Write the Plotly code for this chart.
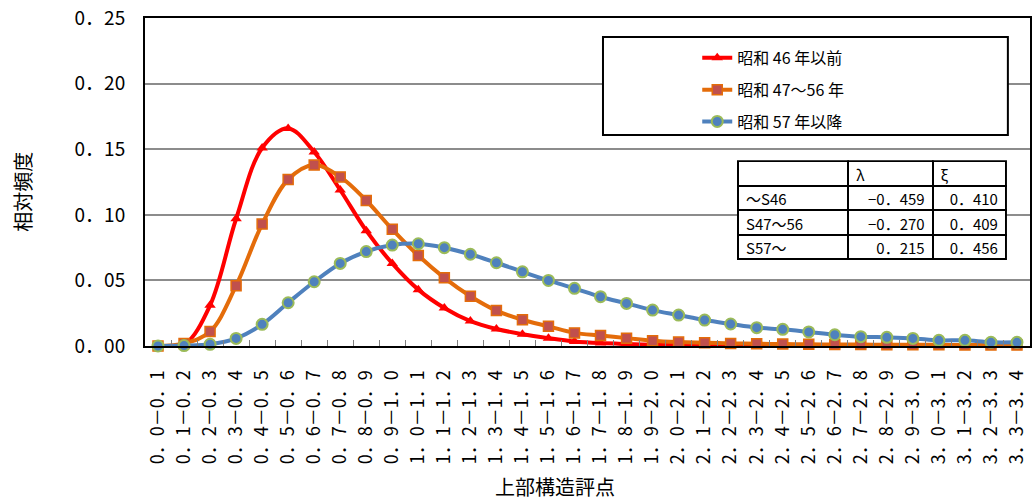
import plotly.graph_objects as go

# ── data ─────────────────────────────────────────────
categories = [
    "0．0－0．1", "0．1－0．2", "0．2－0．3", "0．3－0．4", "0．4－0．5",
    "0．5－0．6", "0．6－0．7", "0．7－0．8", "0．8－0．9", "0．9－1．0",
    "1．0－1．1", "1．1－1．2", "1．2－1．3", "1．3－1．4", "1．4－1．5",
    "1．5－1．6", "1．6－1．7", "1．7－1．8", "1．8－1．9", "1．9－2．0",
    "2．0－2．1", "2．1－2．2", "2．2－2．3", "2．3－2．4", "2．4－2．5",
    "2．5－2．6", "2．6－2．7", "2．7－2．8", "2．8－2．9", "2．9－3．0",
    "3．0－3．1", "3．1－3．2", "3．2－3．3", "3．3－3．4",
]

s46 = [0.000, 0.001, 0.031, 0.097, 0.151, 0.166, 0.148, 0.119, 0.088, 0.063,
       0.043, 0.029, 0.019, 0.013, 0.009, 0.006, 0.0035, 0.0022, 0.0015, 0.001,
       0.0008, 0.0006, 0.0005, 0.0004, 0.0003, 0.0003, 0.0002, 0.0002, 0.0002, 0.0001,
       0.0001, 0.0001, 0.0001, 0.0001]

s47_56 = [0.000, 0.002, 0.011, 0.046, 0.093, 0.127, 0.138, 0.129, 0.111, 0.089,
          0.069, 0.052, 0.038, 0.027, 0.020, 0.015, 0.010, 0.008, 0.006, 0.004,
          0.003, 0.0025, 0.002, 0.0017, 0.0015, 0.0013, 0.0012, 0.0011, 0.001, 0.001,
          0.0009, 0.0008, 0.0008, 0.0007]

s57 = [0.000, 0.0003, 0.0013, 0.0058, 0.0165, 0.033, 0.049, 0.063, 0.072, 0.077,
       0.078, 0.075, 0.070, 0.0635, 0.0566, 0.050, 0.044, 0.0376, 0.0325, 0.0274,
       0.0236, 0.0198, 0.0168, 0.014, 0.0127, 0.0107, 0.0086, 0.0071, 0.0066, 0.0058,
       0.0043, 0.0043, 0.0028, 0.0028]

series_names = ["昭和 46 年以前", "昭和 47～56 年", "昭和 57 年以降"]

y_tickvals = [0.00, 0.05, 0.10, 0.15, 0.20, 0.25]
y_ticktext = ["0．00", "0．05", "0．10", "0．15", "0．20", "0．25"]

# parameter table
table_header = ["", "λ", "ξ"]
table_rows = ["～S46", "S47～56", "S57～"]
table_lambda = ["−0．459", "−0．270", "0．215"]
table_xi = ["0．410", "0．409", "0．456"]

FONT = "Noto Sans CJK JP"

fig = go.Figure()

# ── curves (smoothed, Excel style) ───────────────────
fig.add_trace(go.Scatter(
    x=categories, y=s46, name=series_names[0], legendgroup="a",
    mode="lines+markers", line=dict(color="#ff0000", width=4, shape="spline", smoothing=1),
    marker=dict(symbol="triangle-up", size=10, color="#ff0000"),
    cliponaxis=False,
))
fig.add_trace(go.Scatter(
    x=categories, y=s47_56, name=series_names[1], legendgroup="b",
    mode="lines+markers", line=dict(color="#e46c0a", width=4, shape="spline", smoothing=1),
    marker=dict(symbol="square", size=10, color="#c0504d", line=dict(color="#e46c0a", width=1.5)),
    cliponaxis=False,
))
fig.add_trace(go.Scatter(
    x=categories, y=s57, name=series_names[2], legendgroup="c",
    mode="lines+markers", line=dict(color="#4f81bd", width=4, shape="spline", smoothing=1),
    marker=dict(symbol="circle", size=11, color="#4f81bd", line=dict(color="#9bbb59", width=2)),
    cliponaxis=False,
))

# ── parameter table ──────────────────────────────────
fig.add_trace(go.Table(
    domain=dict(x=[0.670, 0.973], y=[0.255, 0.563]),
    columnwidth=[110, 84, 73],
    header=dict(
        values=table_header, height=24.5, align="left",
        fill_color="white", line=dict(color="black", width=2),
        font=dict(family=FONT, size=15, color="black"),
    ),
    cells=dict(
        values=[table_rows, table_lambda, table_xi], height=24.5,
        align=["left", "right", "right"],
        fill_color="white", line=dict(color="black", width=2),
        font=dict(family=FONT, size=15, color="black"),
    ),
))

# legend frame
fig.add_shape(type="rect", xref="paper", yref="paper",
              x0=0.5175, x1=0.975, y0=0.643, y1=0.942,
              line=dict(color="black", width=2), fillcolor="white", layer="above")

fig.add_annotation(text="上部構造評点", xref="paper", yref="paper", x=0.463, y=-0.427,
                   xanchor="center", yanchor="middle",
                   showarrow=False, font=dict(family=FONT, size=20, color="black"))
fig.add_annotation(text="相対頻度", xref="paper", yref="paper", x=-0.138, y=0.47,
                   xanchor="center", yanchor="middle",
                   textangle=-90, showarrow=False, font=dict(family=FONT, size=20, color="black"))

fig.update_layout(
    width=1032, height=500,
    margin=dict(l=145, r=2, t=18, b=154),
    plot_bgcolor="white", paper_bgcolor="white",
    font=dict(family=FONT, size=16, color="black"),
    showlegend=True,
    legend=dict(
        x=0.624, y=0.93, xanchor="left", yanchor="top",
        bgcolor="rgba(0,0,0,0)", borderwidth=0,
        traceorder="grouped", tracegroupgap=8,
        font=dict(family=FONT, size=16, color="black"),
    ),
    xaxis=dict(
        type="category", range=[-0.5, 33.5], automargin=False,
        showgrid=False, zeroline=False,
        showline=True, linecolor="black", linewidth=2, mirror=True,
        ticks="inside", tickson="boundaries", ticklen=6, tickcolor="#808080",
        tickangle=-90, ticklabelstandoff=15,
        tickfont=dict(family=FONT, size=18, color="black"),
    ),
    yaxis=dict(
        range=[0, 0.2502], tickvals=y_tickvals, ticktext=y_ticktext, automargin=False,
        showgrid=True, gridcolor="#8c8c8c", gridwidth=1.5, zeroline=False,
        showline=True, linecolor="black", linewidth=2, mirror=True,
        ticks="", ticklabelstandoff=14, ticklabeloverflow="allow",
        tickfont=dict(family=FONT, size=19, color="black"),
    ),
)

# drop the page's default 8px body margin so the figure fills the window
fig.write_html("out.html", config={"displayModeBar": False},
               post_script="document.body.style.margin='0';")
